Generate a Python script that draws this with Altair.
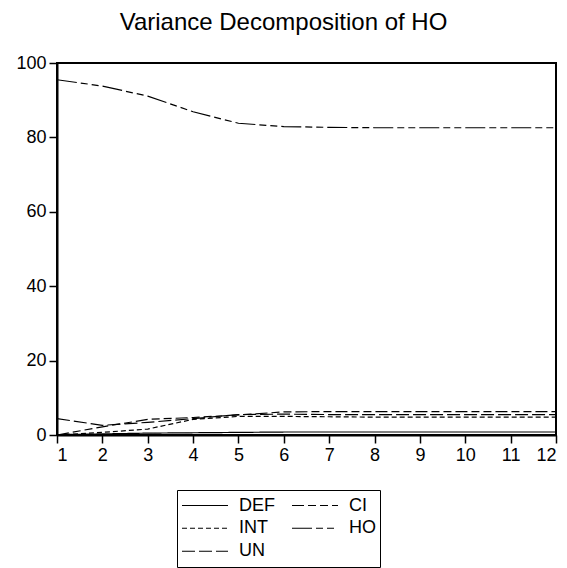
import altair as alt
import pandas as pd

periods = list(range(1, 13))
# legend fills column by column: col 1 = DEF, INT, UN ; col 2 = CI, HO
series_names = ["DEF", "INT", "UN", "CI", "HO"]

DEF = [0.1, 0.3, 0.5, 0.6, 0.7, 0.8, 0.8, 0.8, 0.8, 0.8, 0.8, 0.8]
INT = [0.0, 0.7, 1.6, 4.2, 5.0, 5.0, 4.9, 4.8, 4.8, 4.8, 4.8, 4.8]
UN = [4.4, 2.6, 3.4, 4.4, 5.5, 5.6, 5.5, 5.5, 5.5, 5.5, 5.5, 5.5]
CI = [0.0, 2.2, 4.2, 4.7, 5.4, 6.2, 6.3, 6.3, 6.3, 6.3, 6.3, 6.3]
HO = [95.5, 93.8, 91.1, 86.9, 83.8, 82.9, 82.7, 82.6, 82.6, 82.6, 82.6, 82.6]

y_ticks = [0, 20, 40, 60, 80, 100]

rows = []
for name, vals in zip(series_names, [DEF, INT, UN, CI, HO]):
    for p, v in zip(periods, vals):
        rows.append({"period": p, "series": name, "value": v})
df = pd.DataFrame(rows)

dashes = [[1, 0], [5, 3], [13, 4], [12, 4, 8, 4, 8, 4], [20, 4, 7, 4, 7, 4]]
FONT = "Liberation Sans"

chart = (
    alt.Chart(df)
    .mark_line(color="black", strokeWidth=1.2, clip=True)
    .encode(
        x=alt.X(
            "period:Q",
            scale=alt.Scale(domain=[1, 12], nice=False, zero=False),
            axis=alt.Axis(values=periods, title=None, format="d"),
        ),
        y=alt.Y(
            "value:Q",
            scale=alt.Scale(domain=[0, 100], nice=False),
            axis=alt.Axis(values=y_ticks, title=None),
        ),
        strokeDash=alt.StrokeDash(
            "series:N",
            scale=alt.Scale(domain=series_names, range=dashes),
            legend=alt.Legend(
                title=None,
                orient="none",
                legendX=120,
                legendY=427,
                columns=2,
                strokeColor="black",
                padding=4,
                symbolType="stroke",
                symbolSize=2116,
                symbolStrokeWidth=1.2,
                symbolStrokeColor="black",
                labelFont=FONT,
                labelFontSize=18,
                labelColor="black",
                labelOffset=10,
                columnPadding=16,
                rowPadding=0,
                clipHeight=22.5,
            ),
        ),
    )
    .properties(
        width=499,
        height=372,
        title=alt.Title(
            "Variance Decomposition of HO",
            font=FONT,
            fontSize=24,
            fontWeight="normal",
            color="black",
            anchor="middle",
            frame="group",
            dx=-23,
            baseline="alphabetic",
            offset=0,
        ),
        padding={"left": 49, "top": 55, "right": 3, "bottom": 133},
        autosize="none",
    )
    .configure_view(stroke="black", strokeWidth=2)
    .configure_axis(
        domainColor="black",
        domainWidth=2,
        tickColor="black",
        tickWidth=1.5,
        tickSize=8,
        labelFont=FONT,
        labelFontSize=18,
        labelColor="black",
        labelPadding=3,
        grid=False,
    )
)

chart.save("out.html", embed_options={"renderer": "svg", "actions": False})
